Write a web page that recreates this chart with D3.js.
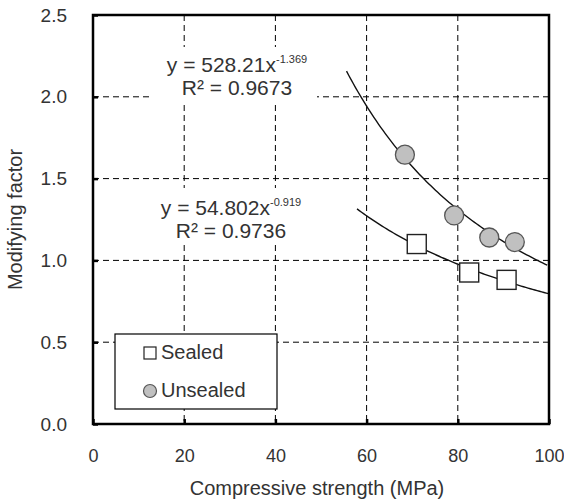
<!DOCTYPE html>
<html>
<head>
<meta charset="utf-8">
<script src="https://cdn.jsdelivr.net/npm/d3@7"></script>
<style>
body { margin: 0; background: #fff; }
text { font-family: "Liberation Sans", Arial, sans-serif; fill: #333; }
</style>
</head>
<body>
<svg id="chart"></svg>
<script>
// data
var sealedX = [71.0, 82.5, 90.7];
var sealedY = [1.10, 0.926, 0.881];
var unsealedX = [68.4, 79.2, 86.9, 92.5];
var unsealedY = [1.646, 1.275, 1.14, 1.112];
// power-law trend lines as printed on the chart: y = a * x^b
var sealedFit = [54.802, -0.919];
var unsealedFit = [528.21, -1.369];
var sealedFitRange = [57.9, 100];
var unsealedFitRange = [55.6, 100];
var xTicks = [0, 20, 40, 60, 80, 100];
var yTicks = [0, 0.5, 1.0, 1.5, 2.0, 2.5];

var margin = { top: 15, right: 15, bottom: 77, left: 93 };
var width = 564 - margin.left - margin.right;
var height = 501 - margin.top - margin.bottom;

var svg = d3.select("#chart")
    .attr("width", 564)
    .attr("height", 501)
    .append("g")
    .attr("transform", "translate(" + margin.left + "," + margin.top + ")");

var xScale = d3.scaleLinear().domain([0, 100]).range([0, width]);
var yScale = d3.scaleLinear().domain([0, 2.5]).range([height, 0]);

// dashed grid
svg.append("g").selectAll("line")
    .data(xTicks.slice(1, -1))
    .enter().append("line")
    .attr("x1", function(d) { return xScale(d); })
    .attr("x2", function(d) { return xScale(d); })
    .attr("y1", 0).attr("y2", height)
    .attr("stroke", "#000").attr("stroke-width", 1)
    .attr("stroke-dasharray", "6,4");

svg.append("g").selectAll("line")
    .data(yTicks.slice(1, -1))
    .enter().append("line")
    .attr("y1", function(d) { return yScale(d); })
    .attr("y2", function(d) { return yScale(d); })
    .attr("x1", 0).attr("x2", width)
    .attr("stroke", "#000").attr("stroke-width", 1)
    .attr("stroke-dasharray", "6,4");

// equation labels sitting on white boxes
function equation(box, cx, y, a, b, r2) {
    var g = svg.append("g");
    g.append("rect")
        .attr("x", box[0]).attr("y", box[1])
        .attr("width", box[2]).attr("height", box[3])
        .attr("fill", "#fff");
    var t = g.append("text")
        .attr("x", cx).attr("y", y)
        .attr("text-anchor", "middle")
        .style("font-size", "21px");
    t.append("tspan").text("y = " + a + "x");
    t.append("tspan").attr("dy", -9).style("font-size", "11px").text(b);
    g.append("text")
        .attr("x", cx).attr("y", y + 23)
        .attr("text-anchor", "middle")
        .style("font-size", "21px")
        .text("R\u00b2 = " + r2);
}
equation([60, 32, 164, 57], 144, 57, "528.21", "-1.369", "0.9673");
equation([57, 173, 162, 54], 138, 200, "54.802", "-0.919", "0.9736");

// trend lines
var line = d3.line()
    .x(function(d) { return xScale(d[0]); })
    .y(function(d) { return yScale(d[1]); });

function fitPoints(fit, range) {
    return d3.range(range[0], range[1] + 0.01, 0.5).map(function(x) {
        return [x, fit[0] * Math.pow(x, fit[1])];
    });
}

svg.append("path")
    .datum(fitPoints(unsealedFit, unsealedFitRange))
    .attr("d", line)
    .attr("fill", "none").attr("stroke", "#111").attr("stroke-width", 1.4);

svg.append("path")
    .datum(fitPoints(sealedFit, sealedFitRange))
    .attr("d", line)
    .attr("fill", "none").attr("stroke", "#111").attr("stroke-width", 1.4);

// markers
svg.append("g").selectAll("circle")
    .data(unsealedX)
    .enter().append("circle")
    .attr("cx", function(d) { return xScale(d); })
    .attr("cy", function(d, i) { return yScale(unsealedY[i]); })
    .attr("r", 9.5)
    .attr("fill", "#c0c0c0").attr("stroke", "#555").attr("stroke-width", 1.3);

svg.append("g").selectAll("rect")
    .data(sealedX)
    .enter().append("rect")
    .attr("x", function(d) { return xScale(d) - 9.5; })
    .attr("y", function(d, i) { return yScale(sealedY[i]) - 9.5; })
    .attr("width", 19).attr("height", 19)
    .attr("fill", "#fff").attr("stroke", "#222").attr("stroke-width", 1.4);

// axes with inward ticks
svg.append("g")
    .attr("transform", "translate(0," + height + ")")
    .call(d3.axisBottom(xScale).tickValues(xTicks).tickSize(-5).tickPadding(25)
        .tickFormat(d3.format("d")))
    .call(function(g) {
        g.select(".domain").remove();
        g.selectAll("line").attr("stroke", "#000").attr("stroke-width", 2.5);
        g.selectAll("text").style("font-size", "18px").attr("fill", "#333");
    });

svg.append("g")
    .call(d3.axisLeft(yScale).tickValues(yTicks).tickSize(-5).tickPadding(26)
        .tickFormat(d3.format(".1f")))
    .call(function(g) {
        g.select(".domain").remove();
        g.selectAll("line").attr("stroke", "#000").attr("stroke-width", 2.5);
        g.selectAll("text").style("font-size", "19px").attr("fill", "#333");
    });

// frame
svg.append("rect")
    .attr("width", width).attr("height", height)
    .attr("fill", "none").attr("stroke", "#000").attr("stroke-width", 2.5);

// legend
var legend = svg.append("g").attr("transform", "translate(22,319)");
legend.append("rect")
    .attr("width", 162).attr("height", 75)
    .attr("fill", "#fff").attr("stroke", "#000").attr("stroke-width", 1.2);
legend.append("rect")
    .attr("x", 29).attr("y", 13).attr("width", 12).attr("height", 12)
    .attr("fill", "#fff").attr("stroke", "#222").attr("stroke-width", 1.2);
legend.append("text")
    .attr("x", 46).attr("y", 25).style("font-size", "20px").text("Sealed");
legend.append("circle")
    .attr("cx", 35).attr("cy", 57).attr("r", 6.5)
    .attr("fill", "#c0c0c0").attr("stroke", "#555").attr("stroke-width", 1.2);
legend.append("text")
    .attr("x", 46).attr("y", 63).style("font-size", "20px").text("Unsealed");

// axis titles
svg.append("text")
    .attr("x", 224).attr("y", height + 71)
    .attr("text-anchor", "middle")
    .style("font-size", "20px")
    .text("Compressive  strength (MPa)");

svg.append("text")
    .attr("transform", "rotate(-90)")
    .attr("x", -height / 2).attr("y", -71)
    .attr("text-anchor", "middle")
    .style("font-size", "20px")
    .text("Modifying factor");
</script>
</body>
</html>
